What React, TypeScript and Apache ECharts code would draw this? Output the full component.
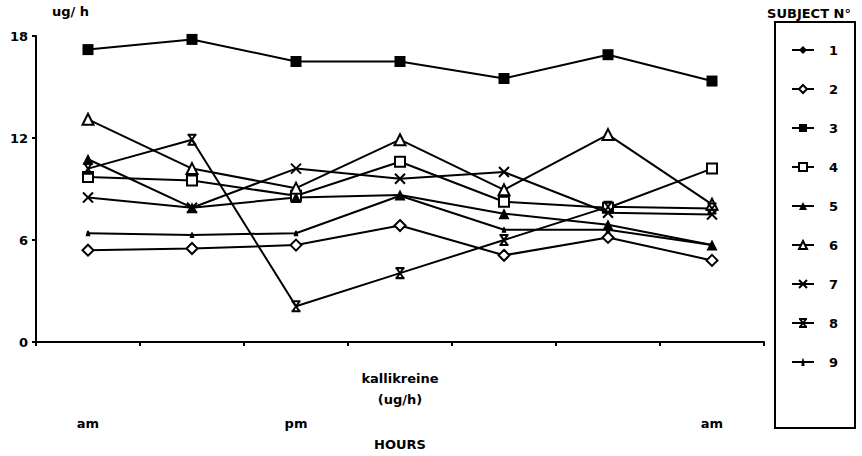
import React, { useEffect, useRef } from "react";
import * as echarts from "echarts";

// Sampling points over the day and the labels printed under them
const SAMPLES = ["1", "2", "3", "4", "5", "6", "7"];
const TIME_LABELS = ["am", "", "pm", "", "", "", "am"];
const Y_TICKS = [0, 6, 12, 18];

// Kallikreine excretion (ug/h) per subject
const SUBJECT_1: (number | null)[] = [null, null, null, null, null, null, null];
const SUBJECT_2 = [5.4, 5.5, 5.7, 6.85, 5.1, 6.15, 4.8];
const SUBJECT_3 = [17.2, 17.8, 16.5, 16.5, 15.5, 16.9, 15.35];
const SUBJECT_4 = [9.7, 9.5, 8.6, 10.6, 8.25, 7.9, 10.2];
const SUBJECT_5 = [10.75, 7.9, 8.5, 8.65, 7.55, 6.9, 5.7];
const SUBJECT_6 = [13.1, 10.2, 9.05, 11.9, 8.95, 12.2, 8.1];
const SUBJECT_7 = [8.5, 7.9, 10.2, 9.6, 10.0, 7.6, 7.5];
const SUBJECT_8 = [10.2, 11.9, 2.1, 4.05, 6.0, 7.95, 7.85];
const SUBJECT_9 = [6.4, 6.3, 6.4, 8.6, 6.6, 6.6, 5.7];

const FONT = "DejaVu Sans";
const INK = "#000";

const X_SYMBOL = "path://M0,0L10,10M10,0L0,10";
const BOWTIE_SYMBOL = "path://M0,0L10,0M0,10L10,10M1,0L9,10M9,0L1,10";
const DASH_SYMBOL = "path://M0,8L3,8Q5,0 7,8L10,8Z";

type Marker = {
  name: string;
  data: (number | null)[];
  symbol: string;
  size: number | number[];
  fill: string;
  stroke: boolean;
};

const MARKERS: Marker[] = [
  { name: "1", data: SUBJECT_1, symbol: "diamond", size: 11, fill: INK, stroke: false },
  { name: "2", data: SUBJECT_2, symbol: "diamond", size: 11, fill: "#fff", stroke: true },
  { name: "3", data: SUBJECT_3, symbol: "rect", size: 11, fill: INK, stroke: false },
  { name: "4", data: SUBJECT_4, symbol: "rect", size: 10, fill: "#fff", stroke: true },
  { name: "5", data: SUBJECT_5, symbol: "triangle", size: 11, fill: INK, stroke: false },
  { name: "6", data: SUBJECT_6, symbol: "triangle", size: 11, fill: "#fff", stroke: true },
  { name: "7", data: SUBJECT_7, symbol: X_SYMBOL, size: 10, fill: "none", stroke: true },
  { name: "8", data: SUBJECT_8, symbol: BOWTIE_SYMBOL, size: [9, 10], fill: "none", stroke: true },
  { name: "9", data: SUBJECT_9, symbol: DASH_SYMBOL, size: [12, 6], fill: INK, stroke: false },
];

export default function App() {
  const ref = useRef<HTMLDivElement>(null);

  useEffect(() => {
    document.body.style.margin = "0";
    if (!ref.current) return;
    const chart = echarts.init(ref.current, null, { renderer: "svg" });

    const series = MARKERS.map((m) => ({
      name: m.name,
      type: "line",
      data: m.data,
      symbol: m.symbol,
      symbolSize: m.size,
      showAllSymbol: true,
      connectNulls: false,
      lineStyle: { color: INK, width: 2 },
      itemStyle: {
        color: m.fill,
        borderColor: INK,
        borderWidth: m.stroke ? 2 : 0,
        opacity: 1,
      },
      emphasis: { disabled: true },
    }));

    const label = (text: string, x: number, y: number) => ({
      type: "text",
      x,
      y,
      style: {
        text,
        font: `bold 13px "${FONT}"`,
        fill: INK,
        align: "center",
        verticalAlign: "middle",
      },
    });

    chart.setOption({
      animation: false,
      backgroundColor: "#fff",
      textStyle: { fontFamily: FONT, color: INK },
      grid: { left: 36, right: 98, top: 36, bottom: 114 },
      xAxis: {
        type: "category",
        data: SAMPLES,
        boundaryGap: true,
        axisLine: { lineStyle: { color: INK, width: 2 } },
        axisTick: { show: true, length: 4, lineStyle: { color: INK, width: 2 } },
        axisLabel: {
          margin: 75,
          interval: 0,
          fontFamily: FONT,
          fontWeight: "bold",
          fontSize: 13,
          color: INK,
          formatter: (_v: string, i: number) => TIME_LABELS[i],
        },
        splitLine: { show: false },
      },
      yAxis: {
        type: "value",
        min: Y_TICKS[0],
        max: Y_TICKS[Y_TICKS.length - 1],
        interval: Y_TICKS[1] - Y_TICKS[0],
        axisLine: { show: true, lineStyle: { color: INK, width: 2 } },
        axisTick: { show: true, length: 4, lineStyle: { color: INK, width: 2 } },
        axisLabel: {
          margin: 8,
          fontFamily: FONT,
          fontWeight: "bold",
          fontSize: 13,
          color: INK,
        },
        splitLine: { show: false },
      },
      legend: {
        orient: "vertical",
        left: 786,
        top: 38,
        itemWidth: 22,
        itemHeight: 10,
        itemGap: 25,
        selectedMode: false,
        data: MARKERS.map((m) => m.name),
        textStyle: {
          fontFamily: FONT,
          fontWeight: "bold",
          fontSize: 13,
          color: INK,
          lineHeight: 14,
          padding: [0, 0, 0, 10],
        },
      },
      graphic: [
        {
          type: "text",
          left: 52,
          top: 5,
          style: {
            text: "ug/ h",
            font: `bold 13px "${FONT}"`,
            fill: INK,
          },
        },
        label("SUBJECT N°", 809, 13),
        {
          type: "rect",
          shape: { x: 775, y: 22, width: 80, height: 406 },
          style: { fill: "none", stroke: INK, lineWidth: 2 },
        },
        label("kallikreine", 400, 378),
        label("(ug/h)", 400, 399),
        label("HOURS", 400, 444),
      ],
      series,
    });

    return () => chart.dispose();
  }, []);

  return <div ref={ref} style={{ width: 862, height: 456 }} />;
}
